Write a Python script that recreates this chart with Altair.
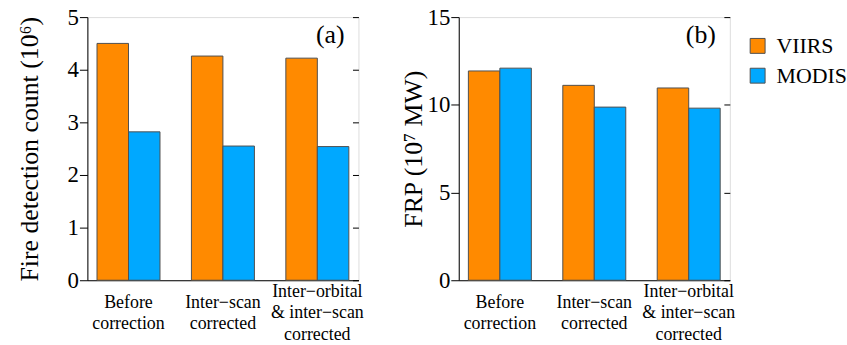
import altair as alt
import pandas as pd

categories = ["Before|correction", "Inter−scan|corrected", "Inter−orbital|& inter−scan|corrected"]
sensors = ["VIIRS", "MODIS"]
count_viirs = [4.50, 4.26, 4.22]
count_modis = [2.82, 2.55, 2.54]
frp_viirs = [11.93, 11.11, 10.96]
frp_modis = [12.09, 9.87, 9.81]
panel_labels = ["(a)", "(b)"]

ORANGE = "#FF8A00"
BLUE = "#00A8FF"
FONT = "Liberation Serif"
W, H = 273, 265


def make_df(viirs, modis):
    rows = []
    for c, v, m in zip(categories, viirs, modis):
        rows.append({"category": c, "sensor": "VIIRS", "value": v})
        rows.append({"category": c, "sensor": "MODIS", "value": m})
    return pd.DataFrame(rows)


def panel(df, ymax, ystep, title, label, title_pad):
    ticks = list(range(0, ymax + 1, ystep))
    x = alt.X("category:N", sort=categories,
              scale=alt.Scale(paddingInner=0.333, paddingOuter=0.102),
              axis=alt.Axis(title=None, ticks=False, tickSize=0, labelAngle=0,
                            labelExpr="split(datum.label, '|')",
                            labelFont=FONT, labelFontSize=18, labelLineHeight=22,
                            labelBaseline="top",
                            labelPadding={"condition": {
                                "test": "length(split(datum.value, '|')) == 2",
                                "value": 13}, "value": 2},
                            labelColor="black", domainColor="black",
                            domainWidth=1))
    xo = alt.XOffset("sensor:N", sort=sensors,
                     scale=alt.Scale(paddingInner=0, paddingOuter=0))
    bars = alt.Chart(df).mark_bar(stroke="#505050", strokeWidth=1).encode(
        x=x, xOffset=xo,
        y=alt.Y("value:Q", scale=alt.Scale(domain=[0, ymax], nice=False),
                axis=alt.Axis(title=title, values=ticks, grid=False,
                              tickSize=8, tickColor="black", domainColor="black",
                              labelFont=FONT, labelFontSize=23, labelColor="black",
                              labelPadding=1, titleFont=FONT, titleFontSize=26,
                              titleFontWeight="normal", titleColor="black",
                              titlePadding=title_pad)),
        color=alt.Color("sensor:N", sort=sensors,
                        scale=alt.Scale(domain=sensors, range=[ORANGE, BLUE]),
                        legend=alt.Legend(title=" ", titleFontSize=12,
                                          titlePadding=6, orient="right",
                                          offset=11, padding=0,
                                          symbolType="square", symbolSize=225,
                                          symbolStrokeColor="#505050",
                                          symbolStrokeWidth=1, symbolOpacity=1,
                                          labelFont=FONT, labelFontSize=22,
                                          labelColor="black", rowPadding=8,
                                          labelOffset=8)),
    )
    ghost = alt.Chart(df).mark_point(opacity=0).encode(
        y=alt.Y("value:Q", scale=alt.Scale(domain=[0, ymax], nice=False),
                axis=alt.Axis(orient="right", title=None, values=ticks,
                              labels=False, domain=False, grid=False,
                              tickSize=6, tickColor="black", offset=-6)),
    )
    txt = alt.Chart(pd.DataFrame({"t": [label]})).mark_text(
        font=FONT, fontSize=26, align="right", baseline="middle", color="black"
    ).encode(text="t:N", x=alt.value(W - 14), y=alt.value(18))
    return alt.layer(bars, ghost, txt).resolve_scale(y="independent").properties(
        width=W, height=H)


pa = panel(make_df(count_viirs, count_modis), 5, 1,
           "Fire detection count (10⁶)", panel_labels[0], 25)
pb = panel(make_df(frp_viirs, frp_modis), 15, 5,
           "FRP (10⁷ MW)", panel_labels[1], 1)

chart = alt.hconcat(pa, pb, spacing=101, bounds="flush").configure_view(
    stroke="black", strokeWidth=1
).configure(
    padding={"left": 15, "top": 4, "right": 0, "bottom": 0}
)

chart.save("out.html", embed_options={"renderer": "svg", "actions": False})
